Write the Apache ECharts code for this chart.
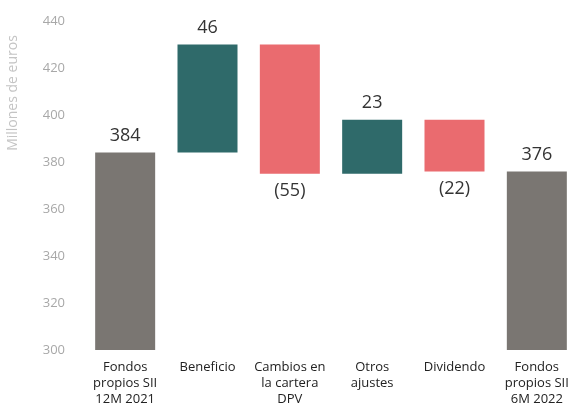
<!DOCTYPE html>
<html>
<head>
<meta charset="utf-8">
<script src="https://cdn.jsdelivr.net/npm/echarts@6/dist/echarts.min.js"></script>
<style>
  html, body { margin: 0; padding: 0; background: #fff; }
  #chart { width: 578px; height: 419px; }
</style>
</head>
<body>
<div id="chart"></div>
<script>
const categories = ['Fondos\npropios SII\n12M 2021', 'Beneficio', 'Cambios en\nla cartera\nDPV', 'Otros\najustes', 'Dividendo', 'Fondos\npropios SII\n6M 2022'];
const changes = [384, 46, -55, 23, -22, 376];
const isTotal = [true, false, false, false, false, true];
const yTicks = [300, 320, 340, 360, 380, 400, 420, 440];

const colTotal = '#7a7672', colUp = '#2f6a6a', colDown = '#ea6b6f';
const font = 'Open Sans';

// waterfall: transparent base + visible piece
let running = 0;
let baseData = [], barData = [];
changes.forEach((v, i) => {
    if (isTotal[i]) {
        baseData.push(0);
        barData.push({ value: v, itemStyle: { color: colTotal }, label: { position: 'top', formatter: String(v) } });
        running = v;
    } else if (v >= 0) {
        baseData.push(running);
        barData.push({ value: v, itemStyle: { color: colUp }, label: { position: 'top', formatter: String(v) } });
        running += v;
    } else {
        running += v;
        baseData.push(running);
        barData.push({ value: -v, itemStyle: { color: colDown }, label: { position: 'bottom', formatter: '(' + (-v) + ')' } });
    }
});

let myChart = echarts.init(document.getElementById('chart'));
let option = {
    animation: false,
    grid: { left: 84, width: 503, top: 21, bottom: 69 },
    graphic: [{
        type: 'text',
        x: 13, y: 93,
        rotation: Math.PI / 2,
        style: {
            text: 'Millones de euros',
            fontFamily: font, fontSize: 14,
            fill: '#c4c4c4',
            align: 'center', verticalAlign: 'middle'
        }
    }],
    xAxis: {
        type: 'category',
        data: categories,
        axisLine: { show: false },
        axisTick: { show: false },
        axisLabel: {
            interval: 0, margin: 9,
            color: '#222', fontFamily: font, fontSize: 13, lineHeight: 16
        }
    },
    yAxis: {
        type: 'value',
        min: yTicks[0], max: yTicks[yTicks.length - 1], interval: 20,
        axisLine: { show: false },
        axisTick: { show: false },
        splitLine: { show: false },
        axisLabel: { margin: 19, color: '#a8a8a8', fontFamily: font, fontSize: 13 }
    },
    series: [
        {
            type: 'bar', stack: 'w', barWidth: 60,
            itemStyle: { color: 'transparent' },
            data: baseData
        },
        {
            type: 'bar', stack: 'w', barWidth: 60,
            label: { show: true, distance: 8, color: '#333', fontFamily: font, fontSize: 18 },
            data: barData
        }
    ]
};
myChart.setOption(option);
</script>
</body>
</html>
